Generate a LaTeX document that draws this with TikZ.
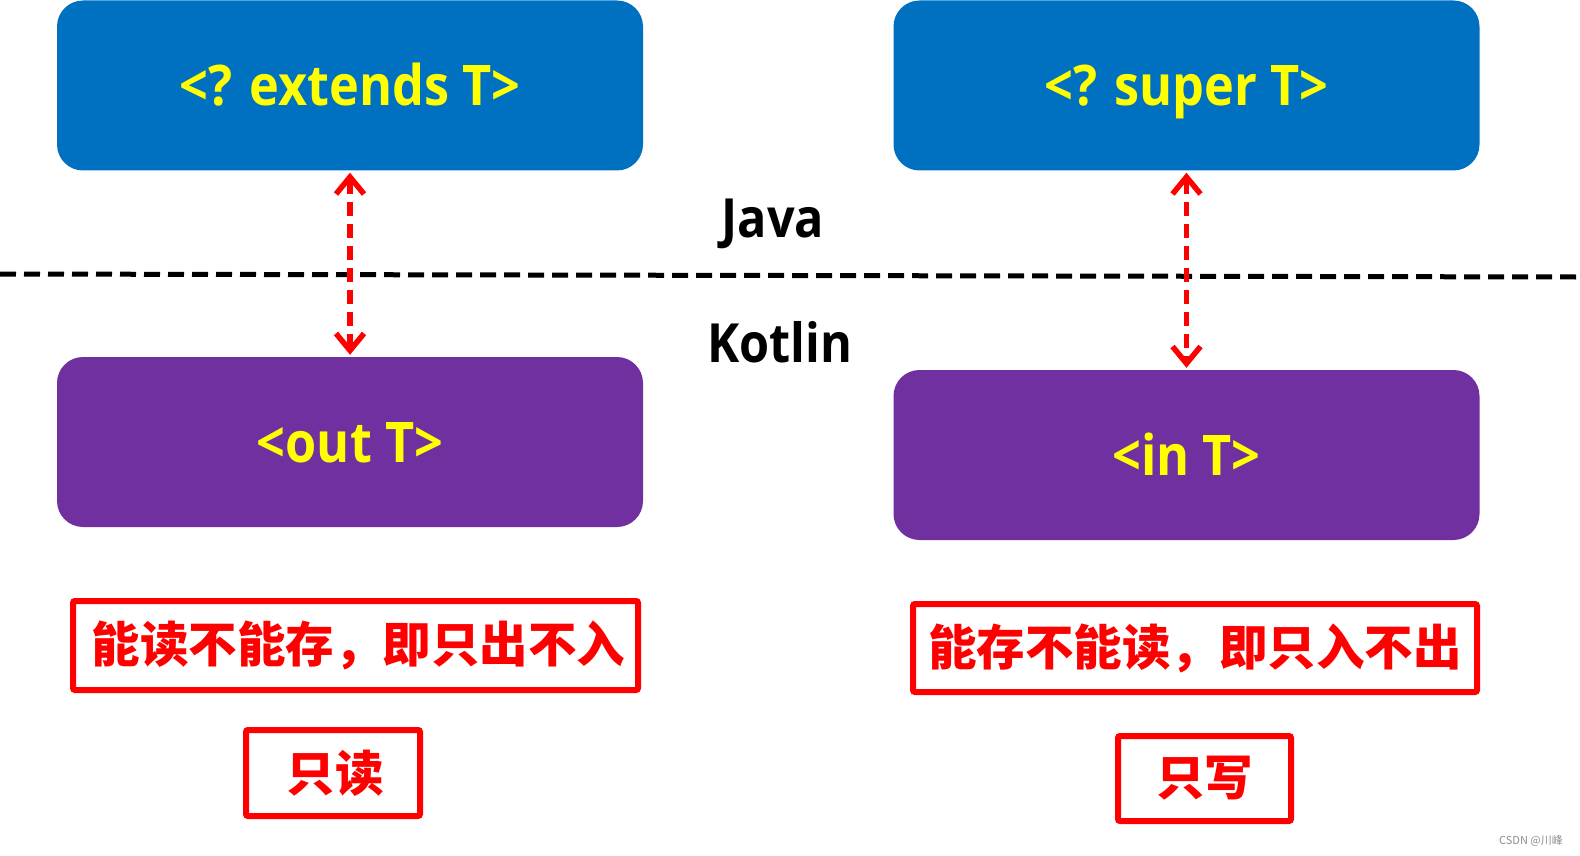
\documentclass[tikz,border=0pt]{standalone}
\usepackage{fontspec}
\usetikzlibrary{arrows.meta}
\setmainfont{Open Sans}[FakeStretch=0.9]
\newfontfamily\cjk{Noto Sans CJK SC}
\definecolor{cblue}{HTML}{0070C0}
\definecolor{cpurple}{HTML}{7030A0}
\definecolor{cyellow}{HTML}{FFFF00}
\definecolor{cred}{HTML}{FF0000}
\definecolor{cgray}{HTML}{8C8C8C}
\tikzset{
  tbox/.style={rectangle, rounded corners=26pt, minimum width=586pt, minimum height=170pt,
    inner sep=0pt, text=cyellow, text height=40pt, text depth=0pt,
    font=\bfseries\fontsize{56}{60}\selectfont},
  lang/.style={anchor=base, text=black, inner sep=0pt, font=\bfseries\fontsize{54}{58}\selectfont},
  rbox/.style={rectangle, draw=cred, line width=6pt, rounded corners=2pt, inner sep=0pt,
    text=cred, font=\cjk\bfseries\fontsize{48.5}{52}\selectfont},
  redarrow/.style={draw=cred, line width=5.5pt, dash pattern=on 14pt off 8pt,
    {Straight Barb[length=17pt,width=28pt,line width=5.5pt]}-{Straight Barb[length=17pt,width=28pt,line width=5.5pt]},
    shorten <=2pt, shorten >=2pt},
  sepline/.style={draw=black, line width=5pt, dash pattern=on 16pt off 8pt}
}
\begin{document}
\begin{tikzpicture}[x=1pt,y=-1pt]
\useasboundingbox (0,0) rectangle (1580,856);
% separator
\coordinate (dl) at (0,274);
\coordinate (dr) at (1576,277);
\draw[sepline] (dl) -- (dr);
% boxes
\node[tbox, fill=cblue] (jext) at (350,85.5) {<? extends T>};
\node[tbox, fill=cblue] (jsup) at (1186.5,85.5) {<? super T>};
\node[tbox, fill=cpurple] (kout) at (350,442) {<out T>};
\node[tbox, fill=cpurple] (kin) at (1186.5,455) {<in T>};
% labels
\node[lang] (java) at (773,237) {Java};
\node[lang] (kotlin) at (780,362) {Kotlin};
% arrows
\draw[redarrow] (jext.south) -- (kout.north);
\draw[redarrow] (jsup.south) -- (kin.north);
% red boxes
\node[rbox, minimum width=565pt, minimum height=89pt] (r1) at (355.5,645.5) {\hspace*{6pt}能读不能存，即只出不入};
\node[rbox, minimum width=564pt, minimum height=88pt] (r2) at (1195,648) {能存不能读，即只入不出};
\node[rbox, minimum width=174pt, minimum height=86pt] (r3) at (333,773) {\hspace*{4pt}只读};
\node[rbox, minimum width=173pt, minimum height=85pt] (r4) at (1204.5,778.5) {只写};
% watermark
\node[text=cgray, inner sep=0pt, font=\cjk\fontsize{11}{12}\selectfont] (wm) at (1531,841) {CSDN @川峰};
\end{tikzpicture}
\end{document}
